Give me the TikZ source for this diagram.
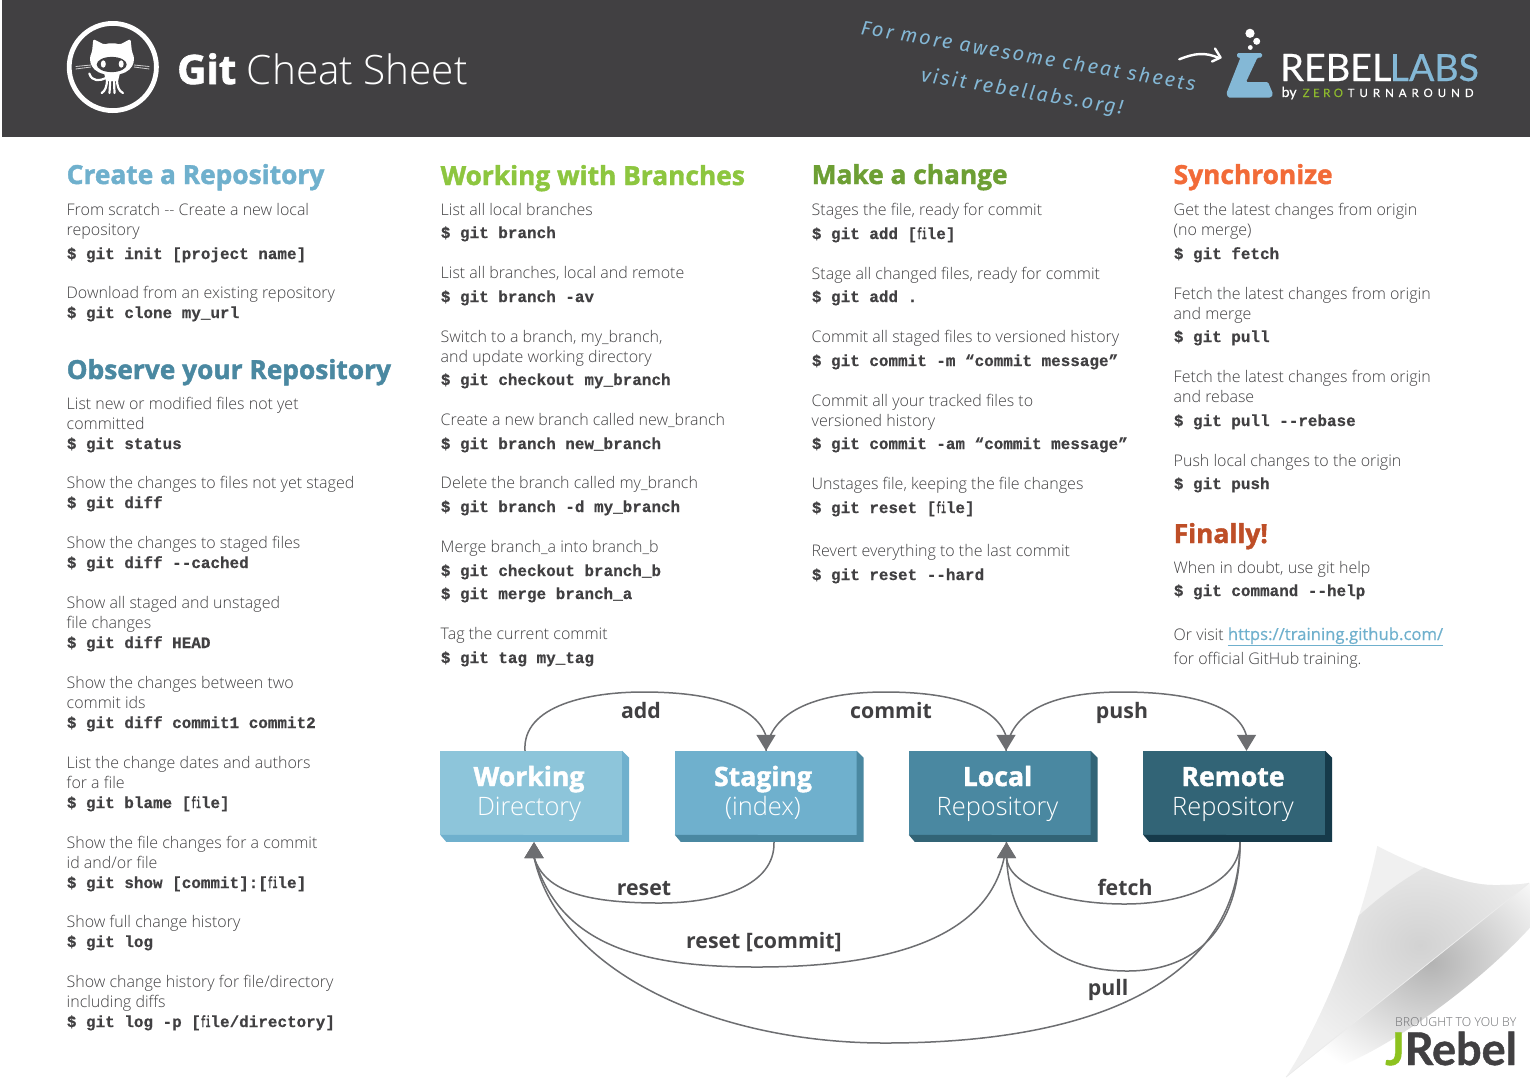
\documentclass[tikz,border=0pt]{standalone}
\usepackage{fontspec}
\usetikzlibrary{arrows.meta,calc,shadings,fadings}
\newfontfamily\oslight{Open Sans Light}
\newfontfamily\osreg{Open Sans}
\newfontfamily\oslink{Open Sans}[FakeBold=0.4]
\newfontfamily\osxf{Open Sans}[BoldFeatures={FakeBold=1.6}]
\newcommand{\osx}{\osxf\bfseries}
\newcommand{\osb}{\osreg\bfseries}
\newfontfamily\cmonof{Liberation Mono}[BoldFeatures={FakeBold=0.45}]
\newcommand{\cmono}{\cmonof\bfseries}
\newfontfamily\latoreg{Lato}
\newfontfamily\latofat{Lato}[FakeBold=0.5]
\newfontfamily\latosp{Lato}[LetterSpace=43,FakeBold=0.25]
\newfontfamily\latosq{Lato}[LetterSpace=30,FakeBold=0.25]
\newfontfamily\latoj{Lato}[BoldFeatures={FakeBold=1.0}]
\newfontfamily\handf{Fira Sans}[LetterSpace=11]
\newcommand{\hand}{\handf\itshape}
\definecolor{ink}{HTML}{414042}
\definecolor{band}{HTML}{414042}
\definecolor{wire}{HTML}{6D6E71}
\definecolor{cA}{HTML}{8DC5DA}
\definecolor{cB}{HTML}{6FB0CD}
\definecolor{cC}{HTML}{4A88A1}
\definecolor{cD}{HTML}{326476}
\definecolor{cE}{HTML}{163A4A}
\definecolor{hGreen}{HTML}{8DC63F}
\definecolor{hOlive}{HTML}{6D9F34}
\definecolor{hOrange}{HTML}{F26B38}
\definecolor{hRust}{HTML}{BE4E27}
\definecolor{lblue}{HTML}{84B8D6}
\definecolor{zgreen}{HTML}{8DB92E}
\definecolor{jgreen}{HTML}{8DC21F}
\definecolor{curlA}{HTML}{F0F0F0}
\definecolor{curlB}{HTML}{D2D2D2}
\newcounter{tn}
\newcommand{\bl}[3]{\stepcounter{tn}\node[bodyline] (t\thetn) at (#1-0.5,#2) {#3};}
\newcommand{\cd}[3]{\stepcounter{tn}\node[codeline] (t\thetn) at (#1-0.3,#2+1) {#3};}
\newcommand{\hd}[4]{\stepcounter{tn}\node[headline,text=#4] (t\thetn) at (#1-0.5,#2) {#3};}
\newcommand{\mfile}{\scalebox{0.5}[1]{fi}le}
\newcommand{\boxside}[2]{\fill[#2] (#1.north east) -- ++(7,7) -- ++(0,84) -- ++(-183,0) -- ++(-6,-7) -- (#1.south east) -- cycle;}
\tikzset{
  bodyline/.style={anchor=base west,inner sep=0pt,text=ink,font=\oslight\fontsize{16}{20}\selectfont},
  codeline/.style={anchor=base west,inner sep=0pt,text=ink,font=\cmono\fontsize{15.95}{20}\selectfont},
  headline/.style={anchor=base west,inner sep=0pt,font=\osx\fontsize{26.3}{30}\selectfont},
  stage/.style={minimum width=182pt,minimum height=84pt,inner sep=0pt},
  stagetop/.style={text=white,inner sep=0pt,anchor=base,font=\osx\fontsize{26.6}{30}\selectfont},
  stagesub/.style={text=white,inner sep=0pt,anchor=base,font=\oslight\fontsize{25.4}{30}\selectfont},
  wiretag/.style={text=ink,inner sep=0pt,anchor=base,font=\osb\fontsize{21.3}{26}\selectfont},
  wirein/.style={draw=wire,line width=1.5pt,-{Triangle[length=16pt,width=19pt]}},
}
\begin{document}
\begin{tikzpicture}[x=1pt,y=-1pt]
\useasboundingbox (0,0) rectangle (1530,1080);
\fill[white] (0,0) rectangle (1530,1080);
\fill[band] (2,0) rectangle (1530,137);

% octocat
\draw[white,line width=4.8pt] (112.8,67) circle[radius=43.6];
\fill[white,rounded corners=1.5pt] (93.3,39) -- (104,44.5) .. controls (109,43) and (115,43) .. (120,44.5) -- (130.5,39) -- (132,52) .. controls (136,60) and (134,74) .. (112,75) .. controls (90,74) and (88,60) .. (92,52) -- cycle;
\fill[band] (111.7,64.5) ellipse[x radius=15,y radius=7.6];
\fill[white] (103.3,64) ellipse[x radius=2.5,y radius=3.7];
\fill[white] (121.2,64) ellipse[x radius=2.5,y radius=3.7];
\fill[white] (104,73) -- (120,73) -- (118,81) -- (106,81) -- cycle;
\draw[white,line width=2.2pt,line cap=round] (107,79) .. controls (107,87) and (105,91) .. (101.7,93);
\draw[white,line width=2.2pt,line cap=round] (110.3,79) -- (109.5,93);
\draw[white,line width=2.2pt,line cap=round] (114,79) -- (114.5,93);
\draw[white,line width=2.2pt,line cap=round] (117,79) .. controls (117,87) and (119,91) .. (123,93);
\draw[white,line width=2.2pt,line cap=round] (89.3,73.5) .. controls (92,82) and (100,81) .. (106,78);
\draw[white!75!band,line width=.8pt] (75.7,66.5) -- (91,65);
\draw[white!75!band,line width=.8pt] (75.7,69) -- (91,67);
\draw[white!75!band,line width=.8pt] (134,65) -- (149.3,66.5);
\draw[white!75!band,line width=.8pt] (134,67) -- (149.3,69);
\node[anchor=base west,inner sep=0pt,text=white,font=\oslight\fontsize{40.5}{50}\selectfont] (title) at (177,84) {{\osx Git} Cheat Sheet};

% handwritten note
\node[anchor=base west,inner sep=0pt,rotate=-9.7,text=lblue,font=\hand\fontsize{20}{24}\selectfont] (noteA) at (860,34) {For more awesome cheat sheets};
\node[anchor=base west,inner sep=0pt,rotate=-9.5,text=lblue,font=\hand\fontsize{20}{24}\selectfont] (noteB) at (920,81) {visit rebellabs.org!};
\draw[white,line width=2.4pt,line cap=round] (1179.3,59.3) .. controls (1195,53) and (1205,52) .. (1219,58);
\draw[white,line width=2.4pt,line cap=round,line join=round] (1215,48.5) -- (1220.5,57.5) -- (1212,61.5);

% rebellabs logo
\fill[white] (1250,33.3) circle[radius=4.6];
\fill[white] (1256.7,41.3) circle[radius=3.5];
\fill[white] (1250.3,47.5) circle[radius=2.4];
\fill[lblue,rounded corners=1.3pt] (1237,53) -- (1262,53) -- (1262,57.5) -- (1257.5,57.5) -- (1246,82) -- (1268,82) -- (1273,94) -- (1271,97.5) -- (1228,97.5) -- (1226.5,93) -- (1240.5,57.5) -- (1237,57.5) -- cycle;
\node[anchor=base west,inner sep=0pt,text=white,font=\latofat\fontsize{37.8}{40}\selectfont] (rebel) at (1280,81) {REBEL};
\node[anchor=base west,inner sep=0pt,text=lblue,font=\latofat\fontsize{37.5}{40}\selectfont] (labs) at (1389.5,81) {LABS};
\node[anchor=base west,inner sep=0pt,text=white,font=\latofat\fontsize{14}{16}\selectfont] (byz) at (1281.5,97) {by};
\node[anchor=base west,inner sep=0pt,text=zgreen,font=\latosq\fontsize{11.5}{14}\selectfont] (zero) at (1302.5,97) {ZERO};
\node[anchor=base west,inner sep=0pt,text=white,font=\latosp\fontsize{11.5}{14}\selectfont] (turn) at (1347.5,97) {TURNAROUND};

% column 1
\hd{67}{184}{Create a Repository}{cB}
\bl{67}{215}{From scratch -- Create a new local}
\bl{67}{235}{repository}
\cd{67}{258}{\$ git init [project name]}
\bl{67}{298}{Download from an existing repository}
\cd{67}{317}{\$ git clone my\_url}
\hd{67}{379}{Observe your Repository}{cC}
\bl{67}{409}{List new or modified files not yet}
\bl{67}{429}{committed}
\cd{67}{448}{\$ git status}
\bl{67}{488}{Show the changes to files not yet staged}
\cd{67}{507}{\$ git diff}
\bl{67}{548}{Show the changes to staged files}
\cd{67}{567}{\$ git diff --cached}
\bl{67}{608}{Show all staged and unstaged}
\bl{67}{628}{file changes}
\cd{67}{647}{\$ git diff HEAD}
\bl{67}{688}{Show the changes between two}
\bl{67}{708}{commit ids}
\cd{67}{727}{\$ git diff commit1 commit2}
\bl{67}{768}{List the change dates and authors}
\bl{67}{788}{for a file}
\cd{67}{807}{\$ git blame [\mfile]}
\bl{67}{848}{Show the file changes for a commit}
\bl{67}{868}{id and/or file}
\cd{67}{887}{\$ git show [commit]:[\mfile]}
\bl{67}{927}{Show full change history}
\cd{67}{946}{\$ git log}
\bl{67}{987}{Show change history for file/directory}
\bl{67}{1007}{including diffs}
\cd{67}{1026}{\$ git log -p [\mfile/directory]}

% column 2
\hd{441}{185}{Working with Branches}{hGreen}
\bl{441}{215}{List all local branches}
\cd{441}{237}{\$ git branch}
\bl{441}{278}{List all branches, local and remote}
\cd{441}{301}{\$ git branch -av}
\bl{441}{342}{Switch to a branch, my\_branch,}
\bl{441}{362}{and update working directory}
\cd{441}{384}{\$ git checkout my\_branch}
\bl{441}{425}{Create a new branch called new\_branch}
\cd{441}{448}{\$ git branch new\_branch}
\bl{441}{488}{Delete the branch called my\_branch}
\cd{441}{511}{\$ git branch -d my\_branch}
\bl{441}{552}{Merge branch\_a into branch\_b}
\cd{441}{575}{\$ git checkout branch\_b}
\cd{441}{598}{\$ git merge branch\_a}
\bl{441}{639}{Tag the current commit}
\cd{441}{662}{\$ git tag my\_tag}

% column 3
\hd{812}{184}{Make a change}{hOlive}
\bl{812}{215}{Stages the file, ready for commit}
\cd{812}{238}{\$ git add [\mfile]}
\bl{812}{279}{Stage all changed files, ready for commit}
\cd{812}{301}{\$ git add .}
\bl{812}{342}{Commit all staged files to versioned history}
\cd{812}{365}{\$ git commit -m “commit message”}
\bl{812}{406}{Commit all your tracked files to}
\bl{812}{426}{versioned history}
\cd{812}{448}{\$ git commit -am “commit message”}
\bl{812}{489}{Unstages file, keeping the file changes}
\cd{812}{512}{\$ git reset [\mfile]}
\bl{812}{556}{Revert everything to the last commit}
\cd{812}{579}{\$ git reset --hard}

% column 4
\hd{1174}{184}{Synchronize}{hOrange}
\bl{1174}{215}{Get the latest changes from origin}
\bl{1174}{235}{(no merge)}
\cd{1174}{258}{\$ git fetch}
\bl{1174}{299}{Fetch the latest changes from origin}
\bl{1174}{319}{and merge}
\cd{1174}{341}{\$ git pull}
\bl{1174}{382}{Fetch the latest changes from origin}
\bl{1174}{402}{and rebase}
\cd{1174}{425}{\$ git pull --rebase}
\bl{1174}{466}{Push local changes to the origin}
\cd{1174}{488}{\$ git push}
\hd{1174}{543}{Finally!}{hRust}
\bl{1174}{573}{When in doubt, use git help}
\cd{1174}{595}{\$ git command --help}
\bl{1174}{640}{Or visit {\oslink\fontsize{16.7}{20}\selectfont\color{cB}\underline{https://training.github.com/}}}
\bl{1174}{664}{for official GitHub training.}

% stages
\node[stage,fill=cA] (wd) at (531,793) {};
\node[stage,fill=cB] (st) at (765.5,793) {};
\node[stage,fill=cC] (lr) at (999.5,793) {};
\node[stage,fill=cD] (rm) at (1234,793) {};
\boxside{wd}{cB}
\boxside{st}{cC}
\boxside{lr}{cD}
\boxside{rm}{cE}
\node[stagetop] (wdA) at ($(wd.center)+(-2,-7)$) {Working};
\node[stagesub] (wdB) at ($(wd.center)+(-2,22)$) {Directory};
\node[stagetop] (stA) at ($(st.center)+(-2.5,-7)$) {Staging};
\node[stagesub] (stB) at ($(st.center)+(-2.5,22)$) {(index)};
\node[stagetop] (lrA) at ($(lr.center)+(-2,-7)$) {Local};
\node[stagesub] (lrB) at ($(lr.center)+(-2,22)$) {Repository};
\node[stagetop] (rmA) at ($(rm.center)+(-1,-7)$) {Remote};
\node[stagesub] (rmB) at ($(rm.center)+(-1,22)$) {Repository};

\coordinate (wdOut) at ($(wd.north)+(-6,0)$);
\coordinate (wdIn) at ($(wd.south)+(3,7)$);
\coordinate (stIn) at ($(st.north)+(0.5,0)$);
\coordinate (stOut) at ($(st.south)+(8.5,7)$);
\coordinate (lrIn) at ($(lr.north)+(6.5,0)$);
\coordinate (lrBot) at ($(lr.south)+(7,7)$);
\coordinate (rmIn) at ($(rm.north)+(12.5,0)$);
\coordinate (rmOut) at ($(rm.south)+(6,7)$);

\draw[wirein] (wdOut) .. controls (522,705) and (590,692) .. (643,692) .. controls (710,692) and (755,705) .. ($(stIn)+(0,-15)$) -- (stIn);
\draw[wirein] (stIn) .. controls (772,705) and (830,692) .. (885,692) .. controls (950,692) and (995,705) .. ($(lrIn)+(0,-15)$) -- (lrIn);
\draw[wirein] (lrIn) .. controls (1012,705) and (1065,692) .. (1122,692) .. controls (1190,692) and (1238,705) .. ($(rmIn)+(0,-15)$) -- (rmIn);
\draw[wirein] (stOut) .. controls (775,885) and (720,903) .. (660,903) .. controls (590,903) and (545,893) .. ($(wdIn)+(0,15)$) -- (wdIn);
\draw[wirein] (lrBot) .. controls (1000,915) and (935,967) .. (757,967) .. controls (640,967) and (560,945) .. ($(wdIn)+(0,15)$) -- (wdIn);
\draw[wirein] (rmOut) .. controls (1240,960) and (1130,1043) .. (885,1043) .. controls (720,1043) and (560,975) .. ($(wdIn)+(0,15)$) -- (wdIn);
\draw[wirein] (rmOut) .. controls (1240,885) and (1180,904) .. (1125,904) .. controls (1060,904) and (1008,885) .. ($(lrBot)+(0,15)$) -- (lrBot);
\draw[wirein] (rmOut) .. controls (1240,930) and (1195,971) .. (1127,971) .. controls (1055,971) and (1010,930) .. ($(lrBot)+(0,15)$) -- (lrBot);

\node[wiretag] (tagadd) at (641,718) {add};
\node[wiretag] (tagcommit) at (891,718) {commit};
\node[wiretag] (tagpush) at (1122,718) {push};
\node[wiretag] (tagreset) at (644,895) {reset};
\node[wiretag] (tagresetc) at (764,948.5) {reset [commit]};
\node[wiretag] (tagfetch) at (1125,895) {fetch};
\node[wiretag] (tagpull) at (1108,995) {pull};

% page curl
\begin{scope}
\clip (1529,883) -- (1286,1077) -- (1530,1200) -- (1600,1000) -- cycle;
\begin{scope}[rotate around={38:(1430,962)}]
\shade[inner color=black!30,outer color=white] (1430,962) ellipse[x radius=175,y radius=42];
\end{scope}
\end{scope}
\begin{scope}
\clip (1377.3,846) .. controls (1420,868) and (1465,885) .. (1493,885) .. controls (1505,885) and (1518,885) .. (1529,883) -- (1286,1077) .. controls (1320,1025) and (1360,930) .. cycle;
\fill[curlA] (1270,840) rectangle (1530,1080);
\begin{scope}[rotate around={38:(1420,945)}]
\shade[inner color=curlB,outer color=curlA] (1420,945) ellipse[x radius=150,y radius=62];
\end{scope}
\end{scope}
\draw[black!8,line width=.8pt] (1529,883) -- (1286,1077);

% jrebel
\node[anchor=base east,inner sep=0pt,text=wire,font=\oslight\fontsize{12.3}{14}\selectfont] (brought) at (1516.5,1026) {BROUGHT TO YOU BY};
\node[anchor=base east,inner sep=0pt,text=ink,font=\latoj\bfseries\fontsize{45}{48}\selectfont] (jreb) at (1517,1065) {\textcolor{jgreen}{J}Rebel};
\end{tikzpicture}
\end{document}
